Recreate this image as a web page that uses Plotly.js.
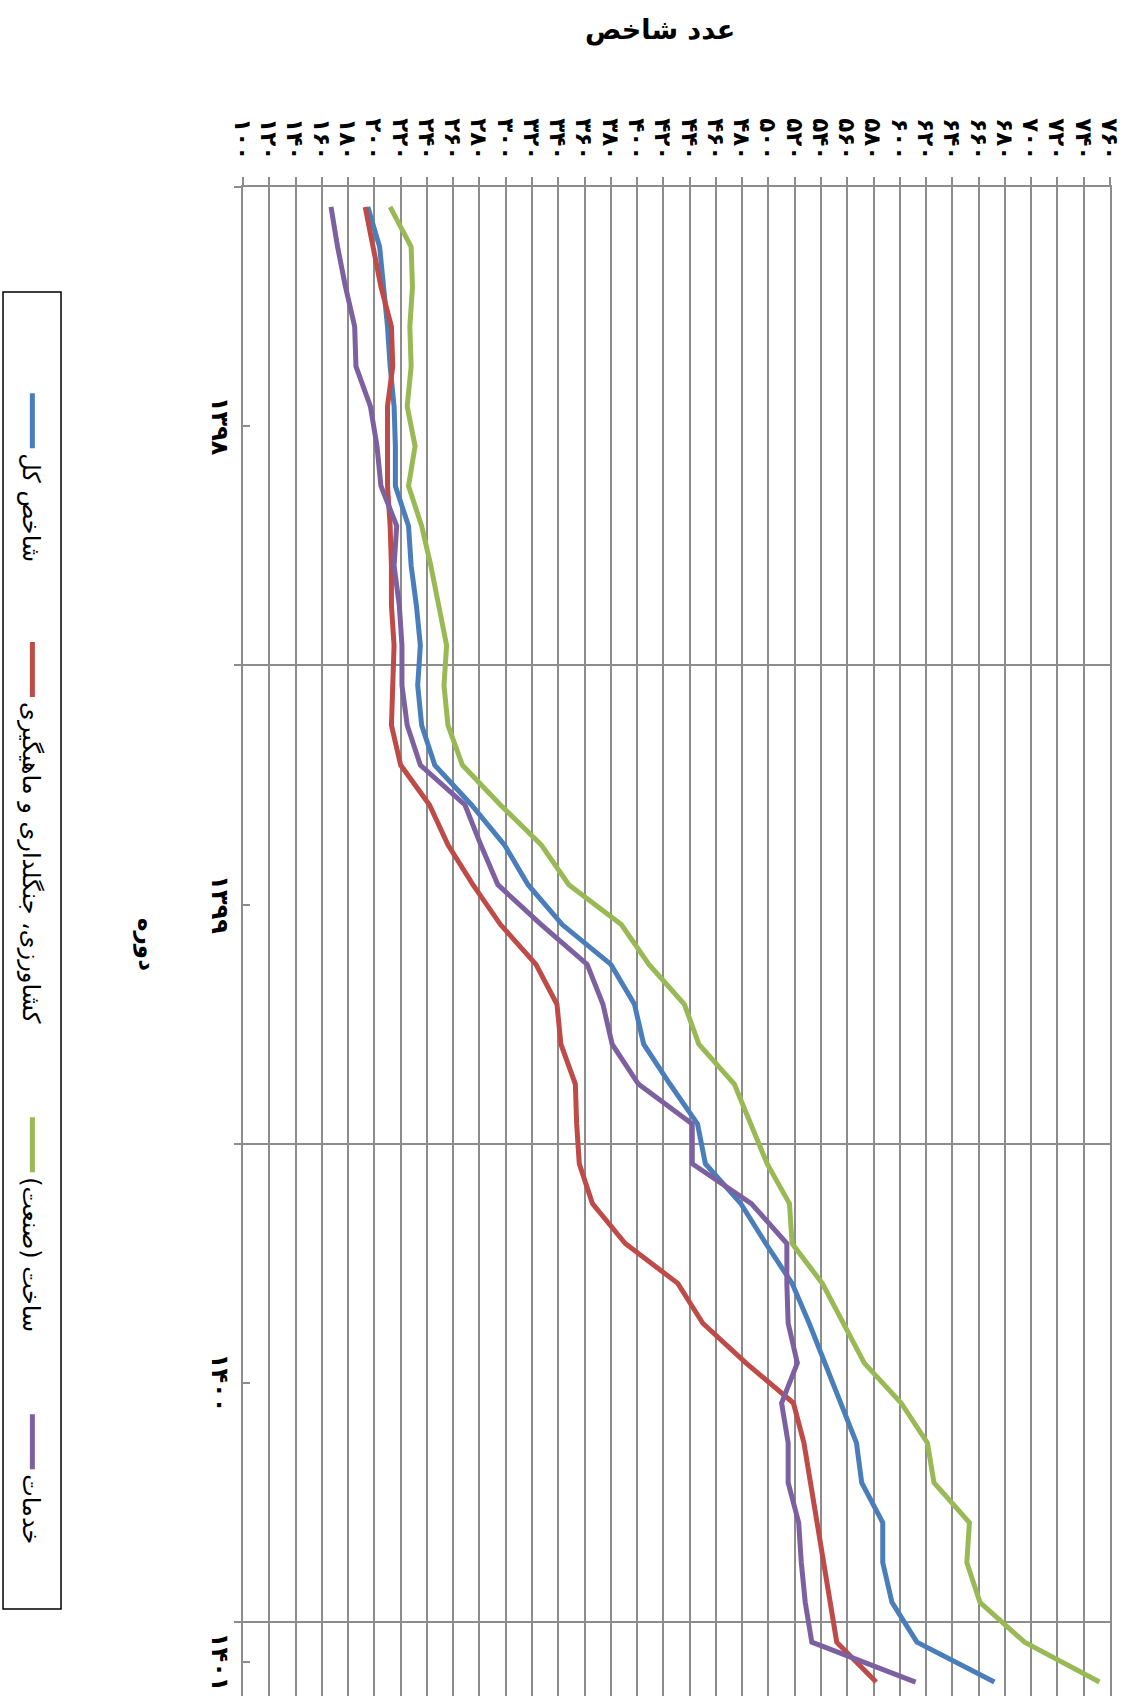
<!DOCTYPE html>
<html>
<head>
<meta charset="utf-8">
<script src="https://cdn.plot.ly/plotly-3.0.1.min.js"></script>
<style>
  html, body { margin: 0; padding: 0; width: 1131px; height: 1696px; overflow: hidden; background: #fff; }
  #chart { position: absolute; left: 0; top: 0; width: 1710px; height: 1131px;
           transform-origin: 0 0; transform: translate(1131px, 0) rotate(90deg); }
</style>
</head>
<body>
<div id="chart"></div>
<script>
// Monthly periods: 12 months of 1398, 1399, 1400 and 2 months of 1401
const years = [1398, 1399, 1400, 1401];
const monthsPerYear = [12, 12, 12, 2];
const periodIndex = [0,1,2,3,4,5,6,7,8,9,10,11,12,13,14,15,16,17,18,19,20,21,22,23,24,25,26,27,28,29,30,31,32,33,34,35,36,37];

const seriesNames = ['شاخص کل', 'کشاورزی، جنگلداری و ماهیگیری', 'ساخت (صنعت)', 'خدمات'];
const seriesColors = ['#4A7EBB', '#BE4B48', '#98B954', '#7D60A0'];

const totalIdx = [195,204,207,210,212,215,216,216,226,228,232,235,233,236,246,274,299,317,343,380,398,405,425,446,452,479,498,518,531,543,555,567,571,587,587,594,613,672];
const agriIdx  = [193,199,205,213,214,210,210,210,212,213,213,215,214,213,220,242,256,275,296,323,339,342,353,354,356,366,391,431,450,483,519,527,532,537,542,547,552,582];
const indIdx   = [212,228,229,227,228,225,231,226,236,243,249,255,253,256,267,296,327,348,388,409,436,447,474,487,499,516,518,541,557,573,601,621,626,653,651,661,695,752];
const servIdx  = [167,172,178,185,186,197,202,205,217,215,219,221,221,225,235,269,281,294,327,362,374,381,401,442,442,487,514,514,515,522,510,515,515,523,525,528,533,612];

const yTickVals = [100,120,140,160,180,200,220,240,260,280,300,320,340,360,380,400,420,440,460,480,500,520,540,560,580,600,620,640,660,680,700,720,740,760];

const faDigits = '۰۱۲۳۴۵۶۷۸۹';
function toFa(v) { return String(v).replace(/\d/g, d => faDigits[+d]); }

// year group centres and boundaries derived from month counts
const groupCenters = [], groupBounds = [-0.5];
let start = 0;
monthsPerYear.forEach(n => { groupCenters.push(start + (n - 1) / 2); start += n; groupBounds.push(start - 0.5); });
const xMax = start - 0.5;

const seriesValues = [totalIdx, agriIdx, indIdx, servIdx];
const legendKeys = ['legend', 'legend2', 'legend3', 'legend4'];
const traces = seriesValues.map((vals, k) => ({
  x: periodIndex, y: vals, type: 'scatter', mode: 'lines', name: seriesNames[k],
  line: { color: seriesColors[k], width: 5 }, legend: legendKeys[k], hoverinfo: 'skip'
}));
traces.push({ x: [0], y: [null], xaxis: 'x2', yaxis: 'y', showlegend: false, hoverinfo: 'skip', mode: 'lines' });

const FONT = 'DejaVu Sans, sans-serif';
const grid = '#8C8C8C';
const legendY = -0.2434;
const legendCommon = { orientation: 'h', y: legendY, yanchor: 'middle', xanchor: 'left', itemwidth: 55,
  bgcolor: 'rgba(0,0,0,0)', borderwidth: 0, font: { family: FONT, size: 24, color: '#000' } };

const layout = {
  width: 1710, height: 1131,
  margin: { l: 187, r: 8, t: 21, b: 243 },
  paper_bgcolor: '#fff', plot_bgcolor: '#fff',
  font: { family: FONT, color: '#000' },
  xaxis: {
    range: [-0.5, xMax], tickmode: 'array', tickvals: groupCenters, ticktext: years.map(toFa),
    ticks: 'inside', ticklen: 7, tickwidth: 2, tickcolor: grid,
    showgrid: false, zeroline: false, showline: true, linecolor: grid, linewidth: 2, mirror: true,
    tickfont: { family: FONT, size: 24, weight: 'bold', color: '#000' },
    title: { text: 'دوره', standoff: 52, font: { family: FONT, size: 23, weight: 'bold', color: '#000' } }
  },
  xaxis2: {
    overlaying: 'x', anchor: 'y', side: 'bottom', range: [-0.5, xMax],
    tickmode: 'array', tickvals: groupBounds, showticklabels: false,
    ticks: 'outside', ticklen: 8, tickwidth: 2, tickcolor: grid,
    showgrid: true, gridcolor: grid, gridwidth: 2, zeroline: false, showline: false
  },
  yaxis: {
    range: [100, 760], tickmode: 'array', tickvals: yTickVals, ticktext: yTickVals.map(toFa),
    ticks: 'outside', ticklen: 8, tickwidth: 2, tickcolor: grid, ticklabelstandoff: 12,
    showgrid: true, gridcolor: grid, gridwidth: 2, zeroline: false,
    showline: true, linecolor: grid, linewidth: 2,
    tickfont: { family: FONT, size: 23, weight: 'bold', color: '#000' }
  },
  annotations: [{
    text: 'عدد شاخص', xref: 'paper', yref: 'paper', x: -0.1036, y: 0.481,
    xanchor: 'center', yanchor: 'middle', textangle: -90, showarrow: false,
    font: { family: FONT, size: 27, weight: 'bold', color: '#000' }
  }],
  legend:  Object.assign({ x: 0.1328 }, legendCommon),
  legend2: Object.assign({ x: 0.2971 }, legendCommon),
  legend3: Object.assign({ x: 0.6107 }, legendCommon),
  legend4: Object.assign({ x: 0.8067 }, legendCommon),
  shapes: [{ type: 'rect', xref: 'paper', yref: 'paper', x0: 0.0693, x1: 0.9386, y0: -0.2768, y1: -0.2099,
             line: { color: '#000', width: 1.5 }, fillcolor: 'rgba(0,0,0,0)' }],
  showlegend: true
};

Plotly.newPlot('chart', traces, layout, { displayModeBar: false, staticPlot: true });
</script>
</body>
</html>
